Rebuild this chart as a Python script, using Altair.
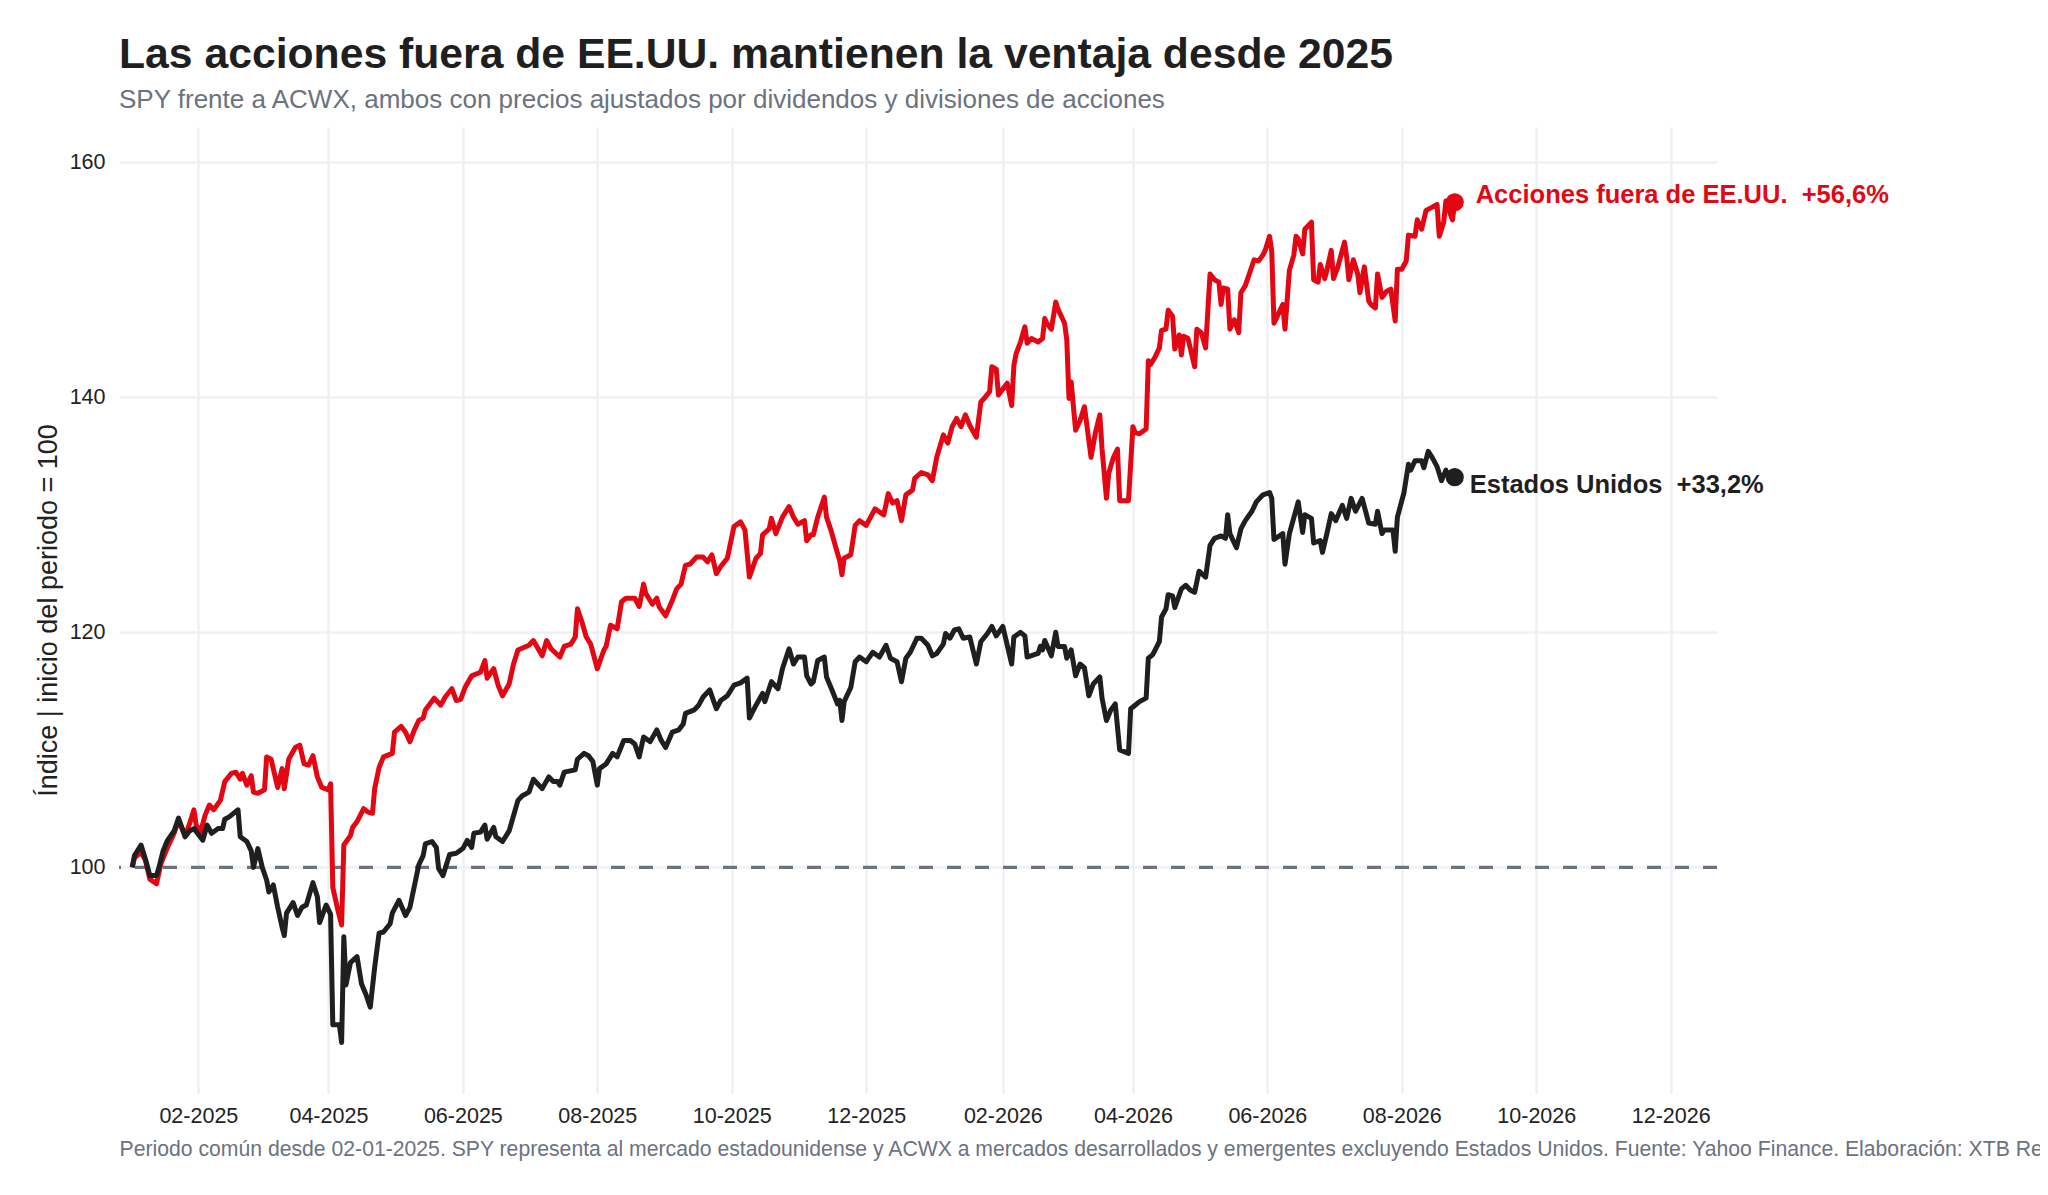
import altair as alt
import pandas as pd

# ---------------- data ----------------
us_dates = [
    "2025-01-02", "2025-01-03", "2025-01-06", "2025-01-08", "2025-01-10", "2025-01-13", "2025-01-14",
    "2025-01-16", "2025-01-18", "2025-01-21", "2025-01-23", "2025-01-26", "2025-01-28", "2025-01-30",
    "2025-02-03", "2025-02-05", "2025-02-07", "2025-02-10", "2025-02-12", "2025-02-13", "2025-02-15",
    "2025-02-19", "2025-02-20", "2025-02-23", "2025-02-25", "2025-02-26", "2025-02-28", "2025-03-02",
    "2025-03-04", "2025-03-05", "2025-03-07", "2025-03-09", "2025-03-11", "2025-03-12", "2025-03-13",
    "2025-03-16", "2025-03-18", "2025-03-20", "2025-03-22", "2025-03-25", "2025-03-27", "2025-03-28",
    "2025-03-31", "2025-04-02", "2025-04-03", "2025-04-06", "2025-04-07", "2025-04-08", "2025-04-09",
    "2025-04-11", "2025-04-14", "2025-04-16", "2025-04-18", "2025-04-20", "2025-04-22", "2025-04-24",
    "2025-04-26", "2025-04-29", "2025-04-30", "2025-05-03", "2025-05-06", "2025-05-08", "2025-05-09",
    "2025-05-12", "2025-05-14", "2025-05-15", "2025-05-18", "2025-05-20", "2025-05-21", "2025-05-23",
    "2025-05-26", "2025-05-29", "2025-06-01", "2025-06-03", "2025-06-05", "2025-06-06", "2025-06-09",
    "2025-06-11", "2025-06-12", "2025-06-15", "2025-06-16", "2025-06-19", "2025-06-22", "2025-06-24",
    "2025-06-26", "2025-06-28", "2025-07-01", "2025-07-03", "2025-07-05", "2025-07-07", "2025-07-10",
    "2025-07-12", "2025-07-14", "2025-07-15", "2025-07-17", "2025-07-22", "2025-07-23", "2025-07-26",
    "2025-07-28", "2025-07-30", "2025-08-01", "2025-08-02", "2025-08-05", "2025-08-08", "2025-08-10",
    "2025-08-13", "2025-08-16", "2025-08-18", "2025-08-20", "2025-08-22", "2025-08-25", "2025-08-28",
    "2025-08-30", "2025-09-01", "2025-09-04", "2025-09-07", "2025-09-09", "2025-09-10", "2025-09-14",
    "2025-09-16", "2025-09-18", "2025-09-21", "2025-09-24", "2025-09-26", "2025-09-29", "2025-10-02",
    "2025-10-05", "2025-10-08", "2025-10-09", "2025-10-12", "2025-10-15", "2025-10-16", "2025-10-19",
    "2025-10-22", "2025-10-24", "2025-10-27", "2025-10-29", "2025-10-31", "2025-11-03", "2025-11-04",
    "2025-11-06", "2025-11-07", "2025-11-09", "2025-11-12", "2025-11-13", "2025-11-15", "2025-11-18",
    "2025-11-19", "2025-11-20", "2025-11-21", "2025-11-24", "2025-11-26", "2025-11-28", "2025-12-01",
    "2025-12-04", "2025-12-07", "2025-12-10", "2025-12-12", "2025-12-15", "2025-12-17", "2025-12-19",
    "2025-12-21", "2025-12-24", "2025-12-26", "2025-12-29", "2025-12-31", "2026-01-02", "2026-01-05",
    "2026-01-06", "2026-01-08", "2026-01-10", "2026-01-12", "2026-01-14", "2026-01-17", "2026-01-20",
    "2026-01-22", "2026-01-25", "2026-01-27", "2026-01-29", "2026-02-01", "2026-02-05", "2026-02-06",
    "2026-02-09", "2026-02-11", "2026-02-12", "2026-02-17", "2026-02-18", "2026-02-19", "2026-02-20",
    "2026-02-23", "2026-02-25", "2026-02-26", "2026-03-01", "2026-03-02", "2026-03-04", "2026-03-06",
    "2026-03-08", "2026-03-10", "2026-03-12", "2026-03-14", "2026-03-17", "2026-03-18", "2026-03-20",
    "2026-03-22", "2026-03-24", "2026-03-26", "2026-03-30", "2026-03-31", "2026-04-02", "2026-04-04",
    "2026-04-07", "2026-04-08", "2026-04-10", "2026-04-13", "2026-04-14", "2026-04-16", "2026-04-17",
    "2026-04-19", "2026-04-20", "2026-04-23", "2026-04-25", "2026-04-27", "2026-04-29", "2026-05-01",
    "2026-05-04", "2026-05-06", "2026-05-08", "2026-05-11", "2026-05-13", "2026-05-14", "2026-05-15",
    "2026-05-18", "2026-05-20", "2026-05-22", "2026-05-25", "2026-05-27", "2026-05-30", "2026-06-02",
    "2026-06-03", "2026-06-04", "2026-06-08", "2026-06-09", "2026-06-11", "2026-06-15", "2026-06-17",
    "2026-06-18", "2026-06-21", "2026-06-22", "2026-06-25", "2026-06-26", "2026-06-28", "2026-06-30",
    "2026-07-02", "2026-07-05", "2026-07-07", "2026-07-09", "2026-07-11", "2026-07-14", "2026-07-17",
    "2026-07-20", "2026-07-21", "2026-07-23", "2026-07-24", "2026-07-28", "2026-07-29", "2026-07-30",
    "2026-08-02", "2026-08-04", "2026-08-05", "2026-08-07", "2026-08-10", "2026-08-11", "2026-08-13",
    "2026-08-15", "2026-08-17", "2026-08-19", "2026-08-21", "2026-08-23", "2026-08-25",
]
us_values = [
    100.0, 101.0, 101.9, 100.7, 99.3, 99.3, 99.9,
    101.4, 102.3, 103.1, 104.2, 102.6, 103.1, 103.3,
    102.3, 103.6, 102.9, 103.3, 103.3, 104.1, 104.3,
    104.9, 102.6, 102.2, 101.4, 100.0, 101.6, 100.0,
    98.9, 97.9, 98.5, 96.6, 94.9, 94.2, 96.1,
    97.0, 95.9, 96.6, 96.8, 98.7, 97.5, 95.3,
    96.8, 96.0, 86.6, 86.6, 85.1, 94.1, 90.0,
    91.9, 92.4, 90.1, 89.2, 88.1, 91.5, 94.4,
    94.5, 95.2, 96.1, 97.2, 95.9, 96.6, 97.5,
    100.2, 101.0, 102.0, 102.2, 101.7, 99.9, 99.3,
    101.1, 101.2, 101.6, 102.3, 101.7, 102.9, 103.0,
    103.6, 102.4, 103.4, 102.6, 102.2, 103.1, 104.4,
    105.7, 106.1, 106.4, 107.5, 107.1, 106.7, 107.7,
    107.3, 107.3, 107.0, 108.1, 108.3, 109.2, 109.7,
    109.5, 109.0, 107.0, 108.4, 108.8, 109.7, 109.4,
    110.8, 110.8, 110.5, 109.4, 111.1, 110.7, 111.7,
    110.8, 110.2, 111.5, 111.7, 112.2, 113.1, 113.4,
    113.8, 114.5, 115.1, 113.5, 114.2, 114.6, 115.5,
    115.7, 116.1, 112.7, 113.8, 114.8, 114.1, 115.8,
    115.2, 116.9, 118.6, 117.3, 117.9, 117.9, 116.3,
    115.6, 115.8, 117.6, 117.9, 116.2, 115.3, 113.9,
    114.2, 112.5, 114.1, 115.3, 117.5, 117.9, 117.5,
    118.3, 117.9, 118.9, 117.8, 117.5, 115.8, 117.8,
    118.3, 119.5, 119.5, 118.9, 118.0, 118.2, 119.0,
    119.9, 119.5, 120.2, 120.3, 119.5, 119.6, 117.3,
    119.2, 119.9, 120.5, 119.7, 120.5, 117.3, 119.6,
    120.0, 119.7, 117.9, 118.2, 118.8, 118.5, 119.3,
    118.0, 120.0, 118.8, 118.8, 117.8, 118.5, 116.3,
    117.3, 117.0, 114.6, 115.6, 116.2, 114.4, 112.5,
    113.4, 113.9, 110.0, 109.7, 113.5, 113.8, 114.1,
    114.4, 117.8, 118.1, 119.2, 121.3, 122.0, 123.2,
    123.1, 122.1, 123.7, 124.0, 123.6, 123.4, 125.2,
    124.7, 127.4, 128.0, 128.2, 128.0, 130.0, 128.4,
    127.2, 128.8, 129.5, 130.3, 131.1, 131.7, 131.9,
    131.4, 127.9, 128.4, 125.8, 128.4, 131.1, 128.5,
    130.0, 129.7, 127.6, 127.8, 126.8, 128.4, 130.1,
    129.5, 130.8, 129.7, 131.4, 130.3, 131.4, 129.3,
    129.2, 130.3, 128.4, 128.7, 128.7, 126.9, 129.8,
    131.9, 134.3, 133.8, 134.6, 134.6, 134.0, 135.4,
    134.8, 134.1, 132.9, 133.8, 132.9, 133.2,
]

intl_dates = [
    "2025-01-02", "2025-01-03", "2025-01-06", "2025-01-08", "2025-01-10", "2025-01-13", "2025-01-15",
    "2025-01-18", "2025-01-21", "2025-01-23", "2025-01-26", "2025-01-28", "2025-01-30", "2025-01-31",
    "2025-02-02", "2025-02-04", "2025-02-06", "2025-02-08", "2025-02-11", "2025-02-13", "2025-02-16",
    "2025-02-18", "2025-02-20", "2025-02-21", "2025-02-23", "2025-02-25", "2025-02-26", "2025-02-28",
    "2025-03-03", "2025-03-04", "2025-03-06", "2025-03-09", "2025-03-11", "2025-03-12", "2025-03-14",
    "2025-03-17", "2025-03-19", "2025-03-21", "2025-03-23", "2025-03-25", "2025-03-27", "2025-03-29",
    "2025-04-01", "2025-04-02", "2025-04-03", "2025-04-05", "2025-04-07", "2025-04-08", "2025-04-11",
    "2025-04-12", "2025-04-14", "2025-04-17", "2025-04-19", "2025-04-21", "2025-04-22", "2025-04-24",
    "2025-04-26", "2025-04-30", "2025-05-01", "2025-05-04", "2025-05-06", "2025-05-08", "2025-05-10",
    "2025-05-12", "2025-05-14", "2025-05-15", "2025-05-19", "2025-05-22", "2025-05-24", "2025-05-27",
    "2025-05-29", "2025-05-31", "2025-06-02", "2025-06-05", "2025-06-09", "2025-06-11", "2025-06-12",
    "2025-06-15", "2025-06-17", "2025-06-19", "2025-06-22", "2025-06-24", "2025-06-26", "2025-07-01",
    "2025-07-03", "2025-07-07", "2025-07-09", "2025-07-11", "2025-07-15", "2025-07-17", "2025-07-20",
    "2025-07-22", "2025-07-23", "2025-07-25", "2025-07-27", "2025-07-29", "2025-08-01", "2025-08-04",
    "2025-08-05", "2025-08-07", "2025-08-10", "2025-08-12", "2025-08-14", "2025-08-18", "2025-08-20",
    "2025-08-22", "2025-08-23", "2025-08-26", "2025-08-28", "2025-08-29", "2025-09-01", "2025-09-04",
    "2025-09-06", "2025-09-08", "2025-09-10", "2025-09-12", "2025-09-15", "2025-09-18", "2025-09-20",
    "2025-09-22", "2025-09-24", "2025-09-26", "2025-09-29", "2025-10-02", "2025-10-05", "2025-10-07",
    "2025-10-09", "2025-10-12", "2025-10-14", "2025-10-15", "2025-10-18", "2025-10-19", "2025-10-21",
    "2025-10-24", "2025-10-27", "2025-10-29", "2025-10-31", "2025-11-03", "2025-11-04", "2025-11-06",
    "2025-11-07", "2025-11-09", "2025-11-12", "2025-11-13", "2025-11-15", "2025-11-18", "2025-11-19",
    "2025-11-20", "2025-11-21", "2025-11-24", "2025-11-26", "2025-11-28", "2025-12-01", "2025-12-05",
    "2025-12-09", "2025-12-11", "2025-12-13", "2025-12-15", "2025-12-17", "2025-12-19", "2025-12-22",
    "2025-12-23", "2025-12-26", "2025-12-29", "2025-12-31", "2026-01-02", "2026-01-05", "2026-01-07",
    "2026-01-09", "2026-01-11", "2026-01-13", "2026-01-15", "2026-01-17", "2026-01-20", "2026-01-22",
    "2026-01-24", "2026-01-26", "2026-01-27", "2026-01-29", "2026-01-30", "2026-02-01", "2026-02-03",
    "2026-02-05", "2026-02-06", "2026-02-07", "2026-02-09", "2026-02-11", "2026-02-12", "2026-02-14",
    "2026-02-17", "2026-02-19", "2026-02-20", "2026-02-21", "2026-02-23", "2026-02-25", "2026-02-26",
    "2026-03-01", "2026-03-02", "2026-03-03", "2026-03-04", "2026-03-06", "2026-03-08", "2026-03-10",
    "2026-03-11", "2026-03-13", "2026-03-15", "2026-03-17", "2026-03-18", "2026-03-20", "2026-03-21",
    "2026-03-23", "2026-03-25", "2026-03-26", "2026-03-30", "2026-04-01", "2026-04-02", "2026-04-04",
    "2026-04-07", "2026-04-08", "2026-04-09", "2026-04-11", "2026-04-13", "2026-04-14", "2026-04-16",
    "2026-04-17", "2026-04-19", "2026-04-20", "2026-04-22", "2026-04-23", "2026-04-24", "2026-04-26",
    "2026-04-29", "2026-04-30", "2026-05-02", "2026-05-04", "2026-05-06", "2026-05-08", "2026-05-10",
    "2026-05-11", "2026-05-12", "2026-05-14", "2026-05-15", "2026-05-17", "2026-05-19", "2026-05-20",
    "2026-05-22", "2026-05-26", "2026-05-28", "2026-05-30", "2026-05-31", "2026-06-02", "2026-06-03",
    "2026-06-04", "2026-06-06", "2026-06-08", "2026-06-09", "2026-06-11", "2026-06-13", "2026-06-14",
    "2026-06-15", "2026-06-17", "2026-06-18", "2026-06-21", "2026-06-22", "2026-06-24", "2026-06-25",
    "2026-06-27", "2026-06-28", "2026-06-30", "2026-07-01", "2026-07-03", "2026-07-06", "2026-07-07",
    "2026-07-08", "2026-07-10", "2026-07-12", "2026-07-13", "2026-07-15", "2026-07-17", "2026-07-18",
    "2026-07-20", "2026-07-21", "2026-07-23", "2026-07-25", "2026-07-27", "2026-07-29", "2026-07-30",
    "2026-08-01", "2026-08-03", "2026-08-04", "2026-08-07", "2026-08-08", "2026-08-10", "2026-08-12",
    "2026-08-14", "2026-08-17", "2026-08-18", "2026-08-20", "2026-08-21", "2026-08-23", "2026-08-24",
    "2026-08-25",
]
intl_values = [
    100.0, 100.8, 101.3, 100.6, 99.0, 98.6, 100.3,
    101.7, 102.9, 104.0, 102.7, 103.7, 104.9, 103.6,
    103.0, 104.4, 105.3, 104.9, 105.7, 107.3, 108.0,
    108.1, 107.5, 108.0, 107.0, 107.8, 106.4, 106.3,
    106.6, 109.4, 109.2, 106.8, 108.4, 106.7, 109.2,
    110.2, 110.4, 108.8, 108.7, 109.5, 107.7, 106.8,
    106.6, 107.1, 98.3, 96.6, 95.1, 101.9, 102.7,
    103.4, 103.9, 105.0, 104.7, 104.6, 106.7, 108.5,
    109.4, 109.7, 111.5, 112.0, 111.5, 110.7, 111.7,
    112.5, 112.7, 113.4, 114.4, 113.8, 114.5, 115.2,
    114.2, 114.3, 115.3, 116.3, 116.6, 117.6, 116.1,
    116.9, 115.5, 114.6, 115.6, 117.3, 118.5, 118.9,
    119.3, 118.0, 119.3, 118.6, 117.9, 118.8, 119.0,
    119.6, 122.0, 120.9, 119.6, 119.0, 116.9, 118.5,
    118.8, 120.6, 120.3, 122.6, 122.9, 122.9, 122.2,
    124.1, 123.3, 122.4, 122.9, 122.2, 121.4, 122.7,
    123.7, 124.1, 125.7, 125.8, 126.4, 126.4, 126.0,
    126.6, 125.0, 125.6, 126.3, 129.0, 129.4, 128.7,
    124.7, 126.3, 126.7, 128.3, 128.8, 129.7, 128.4,
    129.8, 130.7, 129.8, 129.2, 129.5, 127.8, 128.3,
    128.3, 129.8, 131.5, 129.8, 128.7, 126.7, 126.1,
    124.9, 126.3, 126.6, 129.1, 129.5, 129.1, 130.5,
    130.0, 131.8, 131.0, 131.2, 129.5, 131.7, 132.1,
    133.1, 133.6, 133.4, 132.9, 134.9, 136.8, 136.1,
    137.5, 138.2, 137.5, 138.5, 137.6, 136.6, 139.6,
    140.0, 140.5, 142.6, 142.4, 140.2, 140.7, 141.2,
    139.3, 142.7, 143.7, 144.7, 146.0, 144.6, 145.0,
    144.7, 145.0, 146.7, 146.3, 145.8, 148.1, 147.5,
    146.3, 144.9, 139.9, 141.3, 137.2, 138.0, 139.2,
    137.8, 134.9, 137.0, 138.5, 135.6, 131.4, 133.5,
    134.8, 135.6, 131.2, 131.2, 137.5, 137.0, 136.9,
    137.3, 143.1, 142.8, 143.4, 144.2, 145.7, 145.8,
    147.4, 146.9, 144.1, 145.3, 143.6, 145.2, 145.0,
    142.6, 145.8, 145.5, 144.2, 150.5, 150.0, 149.8,
    147.9, 149.3, 149.2, 145.8, 146.6, 145.5, 148.9,
    149.5, 151.7, 151.6, 152.1, 152.5, 153.7, 152.4,
    146.3, 147.1, 147.9, 145.8, 150.8, 152.1, 153.7,
    153.5, 152.2, 154.3, 154.9, 150.0, 149.8, 151.3,
    150.1, 150.8, 152.5, 150.1, 151.1, 153.2, 151.9,
    150.0, 151.7, 150.5, 148.9, 151.1, 148.2, 147.9,
    147.6, 150.5, 148.5, 149.0, 149.2, 146.5, 150.9,
    150.9, 151.6, 153.8, 153.7, 155.1, 154.3, 155.9,
    156.1, 156.4, 153.7, 154.9, 156.7, 155.6, 155.1,
    156.6,
]

series_names = ["Estados Unidos", "Acciones fuera de EE.UU."]
series_colors = ["#1f1f1f", "#e30613"]

tick_dates = ["2025-02-01", "2025-04-01", "2025-06-01", "2025-08-01", "2025-10-01", "2025-12-01",
              "2026-02-01", "2026-04-01", "2026-06-01", "2026-08-01", "2026-10-01", "2026-12-01"]
y_ticks = [100, 120, 140, 160]
baseline = 100
x_domain = ["2024-12-27", "2026-12-22"]
y_domain = [80.8, 163.0]

title_text = "Las acciones fuera de EE.UU. mantienen la ventaja desde 2025"
subtitle_text = "SPY frente a ACWX, ambos con precios ajustados por dividendos y divisiones de acciones"
caption_text = ("Periodo común desde 02-01-2025. SPY representa al mercado estadounidense y ACWX a mercados "
                "desarrollados y emergentes excluyendo Estados Unidos. Fuente: Yahoo Finance. "
                "Elaboración: XTB Research.")
y_title = "Índice | inicio del periodo = 100"

FONT = "Liberation Sans"


def dt(s):
    y, m, d = (int(p) for p in s.split("-"))
    return alt.DateTime(year=y, month=m, date=d, utc=True)


us_df = pd.DataFrame({"fecha": us_dates, "indice": us_values, "serie": series_names[0]})
intl_df = pd.DataFrame({"fecha": intl_dates, "indice": intl_values, "serie": series_names[1]})


def end_label(df, name):
    last = df.iloc[[-1]].copy()
    pct = (last["indice"].iloc[0] / baseline - 1) * 100
    last["label"] = name + "\u00a0 " + f"{pct:+.1f}".replace(".", ",") + "%"
    return last


us_end = end_label(us_df, series_names[0])
intl_end = end_label(intl_df, series_names[1])

x_scale = alt.Scale(type="utc", domain=[dt(x_domain[0]), dt(x_domain[1])], nice=False)
y_scale = alt.Scale(domain=y_domain, nice=False, zero=False)

x_enc = alt.X(
    "fecha:T",
    scale=x_scale,
    axis=alt.Axis(
        values=[dt(s) for s in tick_dates],
        labelExpr="utcFormat(datum.value, '%m-%Y')",
        title=caption_text,
        titleAnchor="start",
        titleAlign="left",
        titleFontSize=21.2,
        titleFontWeight="normal",
        titleColor="#6b7280",
        titleFont=FONT,
        titlePadding=12,
        titleLimit=4000,
        labelPadding=12,
        labelFontSize=21.5,
        labelColor="#222222",
        labelFont=FONT,
        labelFlush=False,
        labelOverlap=False,
        grid=True,
        gridColor="#eff0f3",
        gridWidth=2.4,
        domain=False,
        ticks=False,
    ),
)
y_enc = alt.Y(
    "indice:Q",
    scale=y_scale,
    axis=alt.Axis(
        values=y_ticks,
        title=y_title,
        titleFontSize=27,
        titleFontWeight="normal",
        titleColor="#222222",
        titleFont=FONT,
        titleX=-63,
        titleBaseline="alphabetic",
        labelPadding=14,
        labelFontSize=21.5,
        labelColor="#222222",
        labelFont=FONT,
        grid=True,
        gridColor="#eff0f3",
        gridWidth=2.4,
        domain=False,
        ticks=False,
    ),
)

color_enc = alt.Color("serie:N", scale=alt.Scale(domain=series_names, range=series_colors), legend=None)

ref_rule = alt.Chart(pd.DataFrame({"indice": [baseline]})).mark_rule(
    color="#6b7280", strokeWidth=3.4, strokeDash=[14, 14]
).encode(y=y_enc)

intl_line = alt.Chart(intl_df).mark_line(strokeWidth=5, strokeJoin="round").encode(
    x=x_enc, y=y_enc, color=color_enc
)
us_line = alt.Chart(us_df).mark_line(strokeWidth=5, strokeJoin="round").encode(
    x=x_enc, y=y_enc, color=color_enc
)

ends = pd.concat([us_end, intl_end])
end_pts = alt.Chart(ends).mark_circle(size=330, opacity=1).encode(
    x=x_enc, y=y_enc, color=color_enc
)

intl_txt = alt.Chart(intl_end).mark_text(
    align="left", baseline="alphabetic", dx=21, dy=1, fontSize=25.5, fontWeight="bold", font=FONT,
    color=series_colors[1]
).encode(x=x_enc, y=y_enc, text="label:N")
us_txt = alt.Chart(us_end).mark_text(
    align="left", baseline="alphabetic", dx=15, dy=15.5, fontSize=25.5, fontWeight="bold", font=FONT,
    color=series_colors[0]
).encode(x=x_enc, y=y_enc, text="label:N")

chart = alt.layer(ref_rule, intl_line, us_line, end_pts, intl_txt, us_txt).properties(
    width=1598,
    height=966,
    background="white",
    title=alt.TitleParams(
        text=title_text,
        subtitle=subtitle_text,
        anchor="start",
        frame="group",
        font=FONT,
        fontSize=42.7,
        fontWeight="bold",
        color="#1f1f1f",
        subtitleFont=FONT,
        subtitleFontSize=26,
        subtitleColor="#6b7280",
        subtitlePadding=10,
        offset=14,
    ),
    autosize=alt.AutoSizeParams(type="none"),
    padding={"left": 111, "top": 119, "right": 323, "bottom": 80},
).configure_view(strokeWidth=0)

chart.save("out.html", embed_options={"renderer": "svg", "actions": False})
